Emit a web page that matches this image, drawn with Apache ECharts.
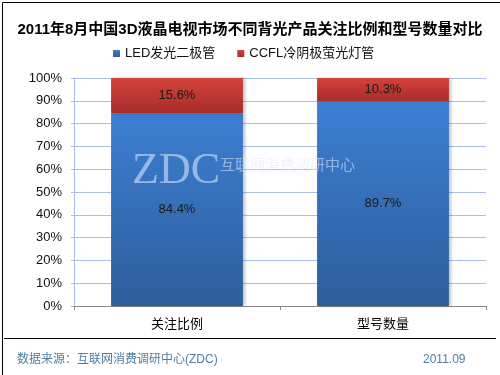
<!DOCTYPE html>
<html><head><meta charset="utf-8">
<script src="https://cdn.jsdelivr.net/npm/echarts@6/dist/echarts.min.js"></script>
<style>html,body{margin:0;padding:0;background:#fff}#c{width:500px;height:375px}</style>
</head><body><div id="c"></div>
<script>
var categories = ['关注比例', '型号数量'];
var ledValues = [84.4, 89.7];
var ccflValues = [15.6, 10.3];
var seriesNames = ['LED发光二极管', 'CCFL冷阴极萤光灯管'];
var yTicks = [0, 10, 20, 30, 40, 50, 60, 70, 80, 90, 100];

var chart = echarts.init(document.getElementById('c'));
var font = 'Arial, "Liberation Sans", "Noto Sans CJK SC", sans-serif';
chart.setOption({
  animation: false,
  textStyle: {fontFamily: font},
  title: {
    text: '2011年8月中国3D液晶电视市场不同背光产品关注比例和型号数量对比',
    left: 'center', top: 17,
    textStyle: {fontSize: 15, fontWeight: 'bold', color: '#000', fontFamily: font}
  },
  legend: {
    top: 42, left: 108, itemGap: 22,
    itemWidth: 7, itemHeight: 7, icon: 'rect',
    textStyle: {fontSize: 13, color: '#111', fontFamily: font},
    data: seriesNames
  },
  grid: {left: 74, right: 14, top: 78, bottom: 69},
  xAxis: {
    type: 'category', data: categories,
    axisLine: {lineStyle: {color: '#888'}},
    axisTick: {show: true, length: 4, lineStyle: {color: '#888'}},
    axisLabel: {fontSize: 13, color: '#000', margin: 12}
  },
  yAxis: {
    type: 'value', min: yTicks[0], max: yTicks[yTicks.length - 1], interval: 10,
    axisLine: {show: true, lineStyle: {color: '#a9bfe6'}},
    axisTick: {show: true, length: 3, lineStyle: {color: '#a9bfe6'}},
    splitLine: {lineStyle: {color: '#a9bfe6'}},
    axisLabel: {fontSize: 13, color: '#111', margin: 12, formatter: function(v){return v + '%';}}
  },
  series: [
    {
      name: seriesNames[0], type: 'bar', stack: 's', barWidth: '64%',
      data: ledValues,
      itemStyle: {
        color: new echarts.graphic.LinearGradient(0, 0, 0, 1, [
          {offset: 0, color: '#3c7fd2'}, {offset: 1, color: '#2e5d9b'}]),
        shadowBlur: 3, shadowColor: 'rgba(0,0,0,0.25)', shadowOffsetX: 2
      },
      label: {show: true, position: 'inside', fontSize: 13, color: '#1a1a1a',
        formatter: function(p){return p.value.toFixed(1) + '%';}}
    },
    {
      name: seriesNames[1], type: 'bar', stack: 's', barWidth: '64%',
      data: ccflValues,
      itemStyle: {
        color: new echarts.graphic.LinearGradient(0, 0, 0, 1, [
          {offset: 0, color: '#d4423b'}, {offset: 1, color: '#a62c2a'}]),
        shadowBlur: 3, shadowColor: 'rgba(0,0,0,0.25)', shadowOffsetX: 2
      },
      label: {show: true, position: 'inside', fontSize: 13, color: '#1a1a1a',
        formatter: function(p){return p.value.toFixed(1) + '%';}}
    }
  ],
  color: ['#3c7fd2', '#c0392f'],
  graphic: [
    {type: 'rect', left: 0, top: 0, z: 100, silent: true,
      shape: {x: 0.5, y: 0.5, width: 499, height: 374},
      style: {fill: 'none', stroke: '#000', lineWidth: 1}},
    {type: 'line', z: 100, silent: true,
      shape: {x1: 4, y1: 338.5, x2: 496, y2: 338.5},
      style: {stroke: '#000', lineWidth: 1}},
    {type: 'text', left: 17, top: 354, z: 100,
      style: {text: '数据来源：互联网消费调研中心(ZDC)', fill: '#4f7f9f', font: '12px ' + font}},
    {type: 'text', left: 423, top: 354, z: 100,
      style: {text: '2011.09', fill: '#4f7f9f', font: '12px ' + font}},
    {type: 'text', left: 132, top: 149, z: 100,
      style: {text: 'ZDC', fill: 'rgba(215,228,248,0.6)', font: '44px "Liberation Serif", "DejaVu Serif", serif',
        shadowBlur: 3, shadowColor: 'rgba(0,0,0,0.35)', shadowOffsetX: 1, shadowOffsetY: 1}},
    {type: 'text', left: 220, top: 157, z: 100,
      style: {text: '互联网消费调研中心', fill: 'rgba(225,235,248,0.55)', font: '15px "Noto Sans CJK SC", sans-serif',
        shadowBlur: 2, shadowColor: 'rgba(0,0,0,0.35)', shadowOffsetX: 1, shadowOffsetY: 1}}
  ]
});
</script></body></html>
